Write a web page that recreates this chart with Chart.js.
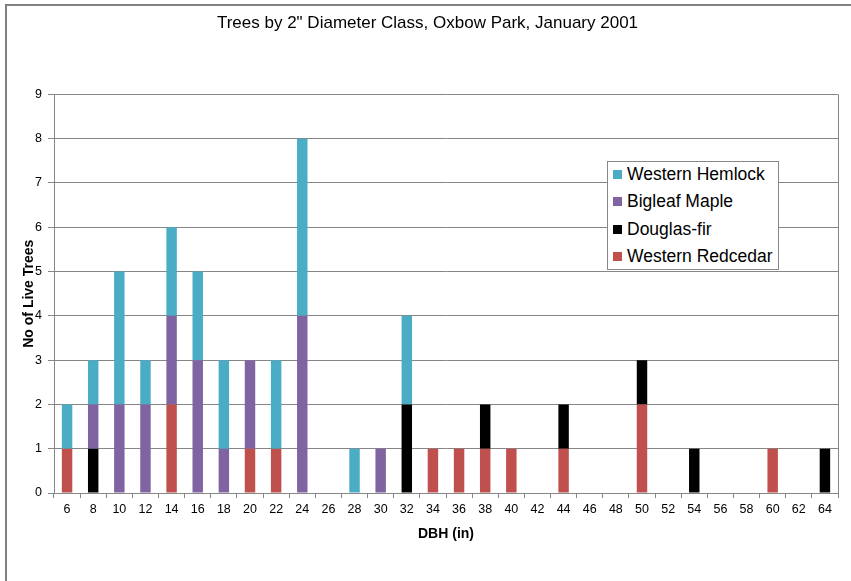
<!DOCTYPE html>
<html>
<head>
<meta charset="utf-8">
<script src="https://cdn.jsdelivr.net/npm/chart.js@4/dist/chart.umd.min.js"></script>
<style>
  html, body { margin: 0; padding: 0; background: #fff; }
  #wrap { position: relative; width: 851px; height: 581px; }
  #frame { position: absolute; left: 5px; top: 4px; width: 851px; height: 581px;
           border-left: 2px solid #808080; border-top: 2px solid #808080; box-sizing: border-box; }
  #legend { position: absolute; left: 607px; top: 161px; width: 172px; height: 109px;
            border: 1px solid #888; background: #fff; box-sizing: border-box;
            font-family: "Liberation Sans", Arial, sans-serif; font-size: 17.5px; color: #000;
            padding: 0 0 0 5px; }
  #legend div { height: 27.3px; line-height: 25px; white-space: nowrap; }
  #legend span { display: inline-block; width: 9px; height: 9px; margin-right: 5px; vertical-align: 1px; }
</style>
</head>
<body>
<div id="wrap">
  <canvas id="chart" width="851" height="581"></canvas>
  <div id="frame"></div>
  <div id="legend"></div>
</div>
<script>
// DBH classes (inches)
const dbhClasses = ['6','8','10','12','14','16','18','20','22','24','26','28','30','32','34',
                    '36','38','40','42','44','46','48','50','52','54','56','58','60','62','64'];

// trees per class, by species (stacked from the bottom up)
const westernRedcedar = [1,0,0,0,2,0,0,1,1,0,0,0,0,0,1,1,1,1,0,1,0,0,2,0,0,0,0,1,0,0];
const douglasFir      = [0,1,0,0,0,0,0,0,0,0,0,0,0,2,0,0,1,0,0,1,0,0,1,0,1,0,0,0,0,1];
const bigleafMaple    = [0,1,2,2,2,3,1,2,0,4,0,0,1,0,0,0,0,0,0,0,0,0,0,0,0,0,0,0,0,0];
const westernHemlock  = [1,1,3,1,2,2,2,0,2,4,0,1,0,2,0,0,0,0,0,0,0,0,0,0,0,0,0,0,0,0];

const yTicks = [0,1,2,3,4,5,6,7,8,9];

const font = '"Liberation Sans", Arial, sans-serif';

const datasets = [
  { label: 'Western Redcedar', data: westernRedcedar, backgroundColor: '#C0504D' },
  { label: 'Douglas-fir',      data: douglasFir,      backgroundColor: '#000000' },
  { label: 'Bigleaf Maple',    data: bigleafMaple,    backgroundColor: '#8064A2' },
  { label: 'Western Hemlock',  data: westernHemlock,  backgroundColor: '#4BACC6' }
];
datasets.forEach(d => { d.barPercentage = 0.4; d.categoryPercentage = 1; d.borderWidth = 0; });

// right edge of the plot area
const plotBorder = {
  id: 'plotBorder',
  afterDraw(chart) {
    const { ctx, chartArea: a } = chart;
    ctx.save();
    ctx.strokeStyle = '#868686';
    ctx.lineWidth = 1;
    ctx.beginPath();
    ctx.moveTo(Math.round(a.right) + 0.5, a.top);
    ctx.lineTo(Math.round(a.right) + 0.5, a.bottom);
    ctx.stroke();
    ctx.restore();
  }
};

new Chart(document.getElementById('chart'), {
  type: 'bar',
  data: { labels: dbhClasses, datasets: datasets },
  plugins: [plotBorder],
  options: {
    responsive: false,
    animation: false,
    layout: { padding: { left: 17, right: 13, top: 0, bottom: 34 } },
    plugins: {
      legend: { display: false },
      tooltip: { enabled: false },
      title: {
        display: true,
        text: 'Trees by 2" Diameter Class, Oxbow Park, January 2001',
        color: '#000',
        font: { family: font, size: 17, weight: 'normal' },
        padding: { top: 13, bottom: 61 }
      }
    },
    scales: {
      x: {
        stacked: true,
        offset: true,
        grid: { offset: true, drawOnChartArea: false, tickLength: 5, color: '#868686' },
        border: { color: '#868686' },
        ticks: { color: '#000', font: { family: font, size: 12.5 }, padding: 4, maxRotation: 0, autoSkip: false },
        title: { display: true, text: 'DBH (in)', color: '#000',
                 font: { family: font, size: 14, weight: 'bold' }, padding: { top: 8 } },
        afterFit(s) { s.height = 54; }
      },
      y: {
        stacked: true,
        min: 0, max: 9,
        afterBuildTicks(s) { s.ticks = yTicks.map(v => ({ value: v })); },
        grid: { color: '#868686', tickLength: 6 },
        border: { color: '#868686' },
        ticks: { color: '#000', font: { family: font, size: 12.5 }, padding: 6 },
        title: { display: true, text: 'No of Live Trees', color: '#000',
                 font: { family: font, size: 14, weight: 'bold' }, padding: { bottom: 0 } },
        afterFit(s) { s.width = 37; }
      }
    }
  }
});

// legend box inside the plot, top entry = top of the stack
const legendEl = document.getElementById('legend');
datasets.slice().reverse().forEach(d => {
  const row = document.createElement('div');
  const sw = document.createElement('span');
  sw.style.background = d.backgroundColor;
  row.appendChild(sw);
  row.appendChild(document.createTextNode(d.label));
  legendEl.appendChild(row);
});
</script>
</body>
</html>
